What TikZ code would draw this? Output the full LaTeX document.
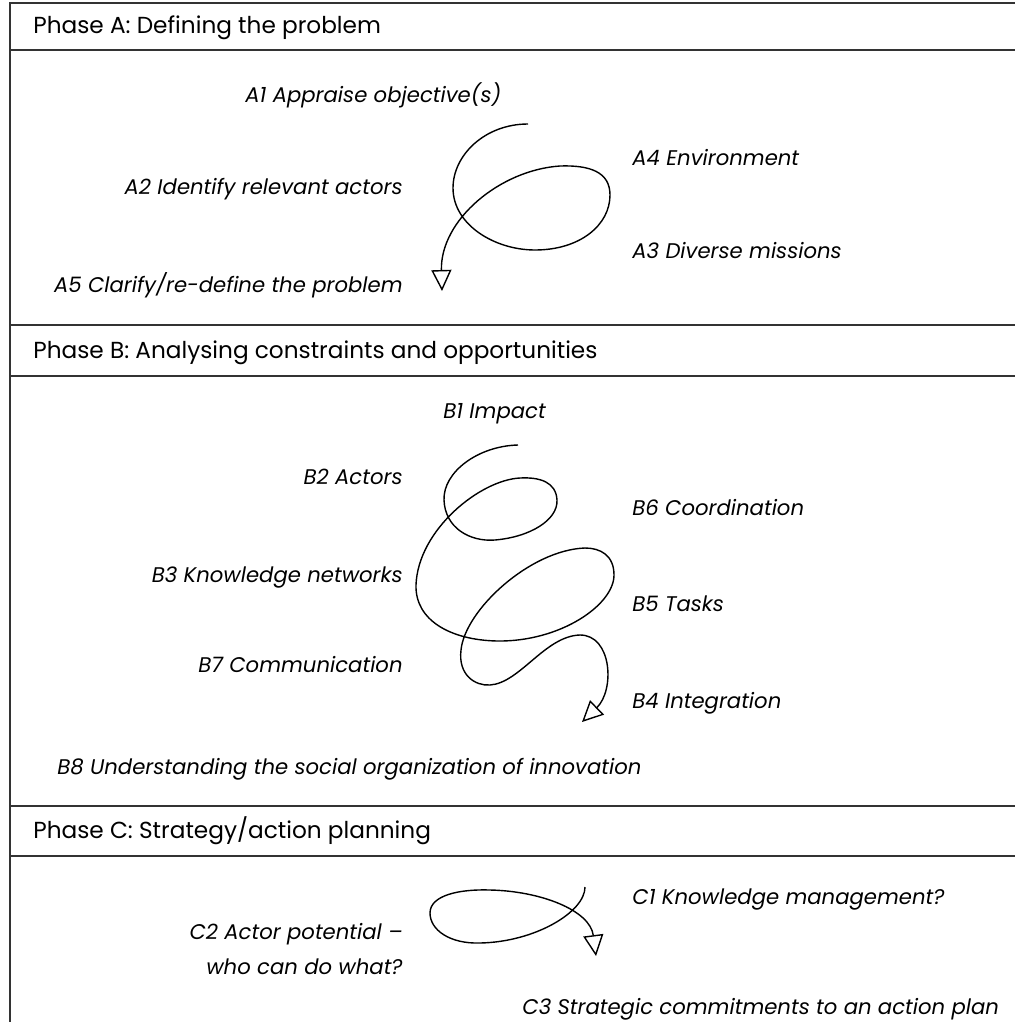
\documentclass[tikz,border=0pt]{standalone}
\usepackage{fontspec}
\setmainfont{Poppins}
\usetikzlibrary{arrows.meta}

\tikzset{
  phasehead/.style={anchor=mid west, inner sep=0pt, yshift=-1pt, font=\fontsize{11.6}{13}\selectfont},
  lbl/.style={inner sep=0pt, yshift=-1pt, font=\fontsize{10.6}{13}\selectfont\itshape},
  lblleft/.style={lbl, anchor=mid east},
  lblright/.style={lbl, anchor=mid west},
  rule/.style={draw=black!80, line width=1pt},
  scribble/.style={line width=0.7pt, -{Triangle[open, length=10.5pt, width=10pt, line width=0.7pt]}},
}

\begin{document}
\begin{tikzpicture}[x=0.5pt, y=-0.5pt]

  \useasboundingbox (0, 0) rectangle (1015, 1022);

  \draw[rule] (10, 1022) -- (10, 3) -- (1015, 3);
  \foreach \yy in {50, 325, 376, 806, 856} {
    \draw[rule] (10, \yy) -- (1015, \yy);
  }

  \begin{scope}
    \node[phasehead] (phA) at (33, 26) {Phase A: Defining the problem};

    \node[lblright] (a1) at (245, 95) {A1 Appraise objective(s)};
    \node[lblleft]  (a2) at (403, 187) {A2 Identify relevant actors};
    \node[lblright] (a4) at (632, 158) {A4 Environment};
    \node[lblright] (a3) at (632, 251) {A3 Diverse missions};
    \node[lblleft]  (a5) at (403, 285) {A5 Clarify/re-define the problem};

    \coordinate (sA) at (528, 124);
    \coordinate (eA) at (442, 291);
    \draw[scribble] (sA) .. controls (485, 124) and (453, 155) .. (453, 188)
                         .. controls (453, 225) and (495, 250) .. (535, 250)
                         .. controls (580, 250) and (610, 225) .. (610, 195)
                         .. controls (610, 172) and (590, 165) .. (560, 166)
                         .. controls (500, 170) and (440, 220) .. (eA);
  \end{scope}

  \begin{scope}
    \node[phasehead] (phB) at (33, 351) {Phase B: Analysing constraints and opportunities};

    \node[lblright] (b1) at (443, 411) {B1 Impact};
    \node[lblleft]  (b2) at (403, 477) {B2 Actors};
    \node[lblright] (b6) at (632, 508) {B6 Coordination};
    \node[lblleft]  (b3) at (403, 575) {B3 Knowledge networks};
    \node[lblright] (b5) at (632, 604) {B5 Tasks};
    \node[lblleft]  (b7) at (403, 665) {B7 Communication};
    \node[lblright] (b4) at (632, 701) {B4 Integration};
    \node[lblright] (b8) at (57, 767) {B8 Understanding the social organization of innovation};

    \coordinate (sB) at (518, 445);
    \coordinate (eB) at (582, 722);
    \draw[scribble] (sB) .. controls (478, 446) and (443, 472) .. (444, 500)
                         .. controls (445, 528) and (470, 542) .. (495, 540)
                         .. controls (530, 537) and (558, 520) .. (557, 500)
                         .. controls (556, 482) and (540, 477) .. (520, 478)
                         .. controls (480, 480) and (418, 530) .. (416, 585)
                         .. controls (415, 620) and (450, 640) .. (497, 641)
                         .. controls (560, 642) and (614, 605) .. (614, 575)
                         .. controls (614, 555) and (600, 548) .. (585, 548)
                         .. controls (530, 550) and (465, 610) .. (461, 650)
                         .. controls (458, 675) and (475, 686) .. (490, 685)
                         .. controls (520, 683) and (545, 636) .. (580, 635)
                         .. controls (612, 635) and (615, 690) .. (eB);
  \end{scope}

  \begin{scope}
    \node[phasehead] (phC) at (33, 831) {Phase C: Strategy/action planning};

    \node[lblright] (c1) at (632, 897) {C1 Knowledge management?};
    \node[lblleft]  (c2) at (403, 932) {C2 Actor potential --};
    \node[lblleft]  (c2b) at (403, 967) {who can do what?};
    \node[lblright] (c3) at (522, 1007) {C3 Strategic commitments to an action plan};

    \coordinate (sC) at (585, 887);
    \coordinate (eC) at (596, 956);
    \draw[scribble] (sC) .. controls (585, 912) and (535, 942) .. (480, 943)
                         .. controls (450, 944) and (430, 930) .. (430, 913)
                         .. controls (430, 895) and (460, 889) .. (490, 890)
                         .. controls (540, 891) and (590, 910) .. (eC);
  \end{scope}

\end{tikzpicture}
\end{document}
